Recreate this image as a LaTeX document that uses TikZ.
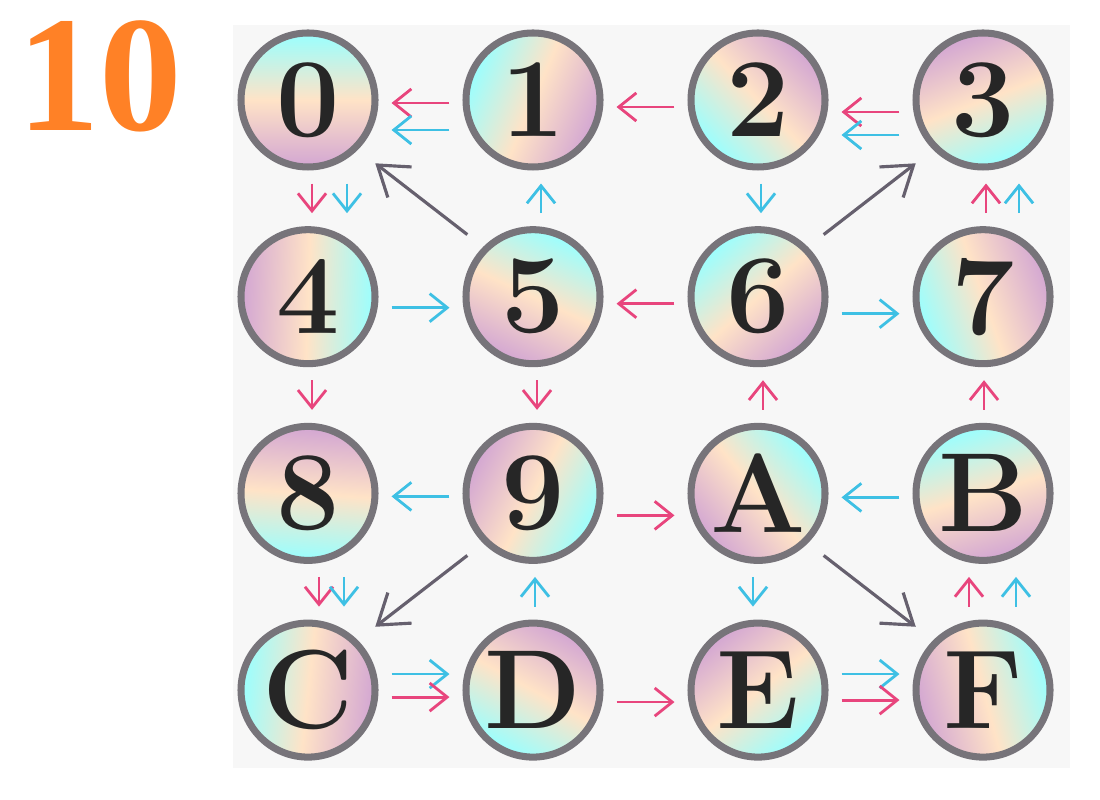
\documentclass[tikz,border=0pt]{standalone}
\usepackage{fontspec}
\usepackage{tikz}
\usetikzlibrary{arrows.meta}
\newfontfamily\tagfont{Liberation Serif}
\definecolor{pinkpen}{HTML}{E8457D}
\definecolor{cyanpen}{HTML}{3EC0E4}
\definecolor{graypen}{HTML}{66606E}
\definecolor{tagorange}{HTML}{FF8126}
\definecolor{ringgray}{HTML}{77747A}
\begin{document}
\begin{tikzpicture}[
  coin/.style={circle,draw=ringgray,line width=2pt,minimum size=1.34cm,inner sep=0pt,
    left color=cyan!40,right color=violet!35,middle color=orange!22,
    font=\fontsize{32}{32}\selectfont\bfseries,text=black!85},
  pk/.style={pinkpen,line width=0.8pt,-{Straight Barb[length=5pt,width=8pt]},
    shorten <=0.13cm,shorten >=0.13cm},
  cy/.style={pk,cyanpen},
  jump/.style={graypen,line width=0.9pt,-{Straight Barb[length=8pt,width=11pt]},
    shorten <=0.2cm,shorten >=0.22cm}]
  \useasboundingbox (0,0) rectangle (11,8);
  \fill[black!3] (2.33,0.32) rectangle (10.70,7.75);
  \node[font=\tagfont\bfseries\fontsize{47}{47}\selectfont,text=tagorange] (tag) at (1.00,7.24) {10};
  % the sixteen coins
  \foreach \lab [count=\k from 0] in {0,1,2,3,4,5,6,7,8,9,A,B,C,D,E,F}{
    \pgfmathtruncatemacro\col{mod(\k,4)}
    \pgfmathtruncatemacro\row{floor(\k/4)}
    \pgfmathtruncatemacro\ang{mod(\k*67,360)}
    \node[coin,shading angle=\ang] (d\lab) at ({3.08+2.25*\col},{7-1.967*\row}) {\lab};
  }
  % top row
  \draw[pk] ([yshift=-0.03cm]d1.west) -- ([yshift=-0.03cm]d0.east);
  \draw[cy] ([yshift=-0.30cm]d1.west) -- ([yshift=-0.30cm]d0.east);
  \draw[pk] ([yshift=-0.07cm]d2.west) -- ([yshift=-0.07cm]d1.east);
  \draw[pk] ([yshift=-0.12cm]d3.west) -- ([yshift=-0.12cm]d2.east);
  \draw[cy] ([yshift=-0.35cm]d3.west) -- ([yshift=-0.35cm]d2.east);
  % first to second row
  \draw[pk] ([xshift=0.04cm]d0.south) -- ([xshift=0.04cm]d4.north);
  \draw[cy] ([xshift=0.39cm]d0.south) -- ([xshift=0.39cm]d4.north);
  \draw[jump] (d5.north west) -- (d0.south east);
  \draw[cy] ([xshift=0.08cm]d5.north) -- ([xshift=0.08cm]d1.south);
  \draw[cy] ([xshift=0.03cm]d2.south) -- ([xshift=0.03cm]d6.north);
  \draw[jump] (d6.north east) -- (d3.south west);
  \draw[pk] ([xshift=0.03cm]d7.north) -- ([xshift=0.03cm]d3.south);
  \draw[cy] ([xshift=0.36cm]d7.north) -- ([xshift=0.36cm]d3.south);
  % second row
  \draw[cy] ([yshift=-0.11cm]d4.east) -- ([yshift=-0.11cm]d5.west);
  \draw[pk] ([yshift=-0.07cm]d6.west) -- ([yshift=-0.07cm]d5.east);
  \draw[cy] ([yshift=-0.17cm]d6.east) -- ([yshift=-0.17cm]d7.west);
  % second to third row
  \draw[pk] ([xshift=0.04cm]d4.south) -- ([xshift=0.04cm]d8.north);
  \draw[pk] ([xshift=0.04cm]d5.south) -- ([xshift=0.04cm]d9.north);
  \draw[pk] ([xshift=0.05cm]dA.north) -- ([xshift=0.05cm]d6.south);
  \draw[pk] ([xshift=0.01cm]dB.north) -- ([xshift=0.01cm]d7.south);
  % third row
  \draw[cy] ([yshift=-0.03cm]d9.west) -- ([yshift=-0.03cm]d8.east);
  \draw[pk] ([yshift=-0.22cm]d9.east) -- ([yshift=-0.22cm]dA.west);
  \draw[cy] ([yshift=-0.04cm]dB.west) -- ([yshift=-0.04cm]dA.east);
  % third to fourth row
  \draw[pk] ([xshift=0.11cm]d8.south) -- ([xshift=0.11cm]dC.north);
  \draw[cy] ([xshift=0.36cm]d8.south) -- ([xshift=0.36cm]dC.north);
  \draw[jump] (d9.south west) -- (dC.north east);
  \draw[cy] ([xshift=0.02cm]dD.north) -- ([xshift=0.02cm]d9.south);
  \draw[cy] ([xshift=-0.05cm]dA.south) -- ([xshift=-0.05cm]dE.north);
  \draw[jump] (dA.south east) -- (dF.north west);
  \draw[pk] ([xshift=-0.14cm]dF.north) -- ([xshift=-0.14cm]dB.south);
  \draw[cy] ([xshift=0.33cm]dF.north) -- ([xshift=0.33cm]dB.south);
  % bottom row
  \draw[cy] ([yshift=0.16cm]dC.east) -- ([yshift=0.16cm]dD.west);
  \draw[pk] ([yshift=-0.07cm]dC.east) -- ([yshift=-0.07cm]dD.west);
  \draw[pk] ([yshift=-0.12cm]dD.east) -- ([yshift=-0.12cm]dE.west);
  \draw[cy] ([yshift=0.16cm]dE.east) -- ([yshift=0.16cm]dF.west);
  \draw[pk] ([yshift=-0.10cm]dE.east) -- ([yshift=-0.10cm]dF.west);
\end{tikzpicture}
\end{document}
